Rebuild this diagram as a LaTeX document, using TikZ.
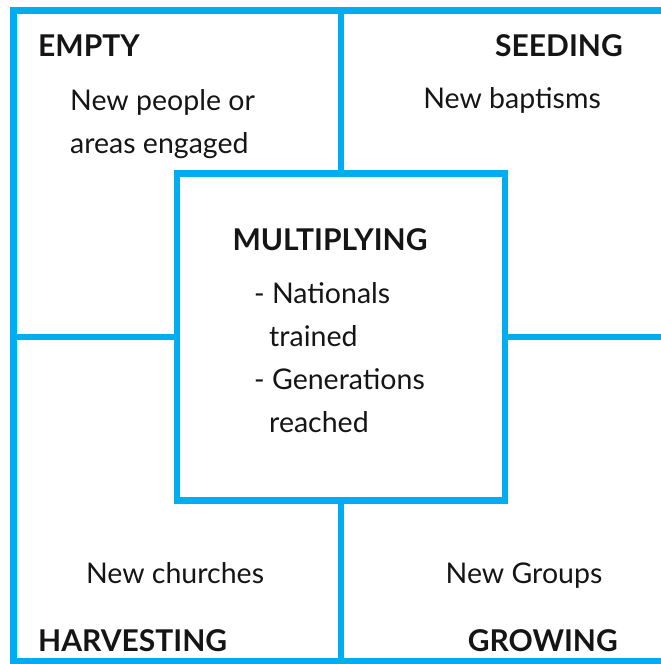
\documentclass[tikz,border=0pt]{standalone}
\usepackage{fontspec}
\setmainfont{Lato}
\usepackage{xcolor}
\usetikzlibrary{calc}
\definecolor{quadblue}{HTML}{00AEEF}
\definecolor{quadink}{HTML}{151515}

\begin{document}
\begin{tikzpicture}[
  x=1bp, y=-1bp,
  font=\rmfamily,
  quadline/.style={
    draw=quadblue,
    line width=6.5bp
  },
  stagename/.style={
    font=\fontsize{30bp}{36bp}\selectfont\bfseries,
    text=quadink,
    inner sep=0pt
  },
  stagetext/.style={
    font=\fontsize{28.5bp}{43bp}\selectfont,
    text=quadink,
    inner sep=0pt,
    align=left
  }
]
\clip (0,0) rectangle (661,664);

% outer frame and centre square
\node[quadline,rectangle,minimum width=656bp,minimum height=650.5bp,inner sep=0pt]
  (frame) at (341.5,335.75) {};
\node[quadline,rectangle,fill=white,minimum width=328bp,minimum height=327bp,inner sep=0pt]
  (mult) at (341,337) {};

\draw[quadline] (mult.north) -- (mult.north |- frame.north);
\draw[quadline] (mult.south) -- (mult.south |- frame.south);
\draw[quadline] (mult.west) -- (mult.west -| frame.west);
\draw[quadline] (mult.east) -- (mult.east -| frame.east);

% quadrant labels
\node[stagename,anchor=base west] (empty) at (38,57) {EMPTY};
\node[stagetext,anchor=north west] (emptytxt) at (70,89.5)
  {New people or\\areas engaged};

\node[stagename,anchor=base east] (seeding) at (623,57) {SEEDING};
\node[stagetext,anchor=base] (seedtxt) at (512,109) {New baptisms};

\node[stagename,anchor=base] (multname) at (330,250) {MULTIPLYING};
\node[stagetext,anchor=north west] (multtxt) at (254,282.5)
  {- Nationals\\\hspace{15bp}trained\\- Generations\\\hspace{15bp}reached};

\node[stagetext,anchor=base] (harvtxt) at (175,583) {New churches};
\node[stagename,anchor=base west] (harvesting) at (38,651) {HARVESTING};

\node[stagetext,anchor=base] (growtxt) at (524,583) {New Groups};
\node[stagename,anchor=base east] (growing) at (618,651) {GROWING};

\end{tikzpicture}
\end{document}
